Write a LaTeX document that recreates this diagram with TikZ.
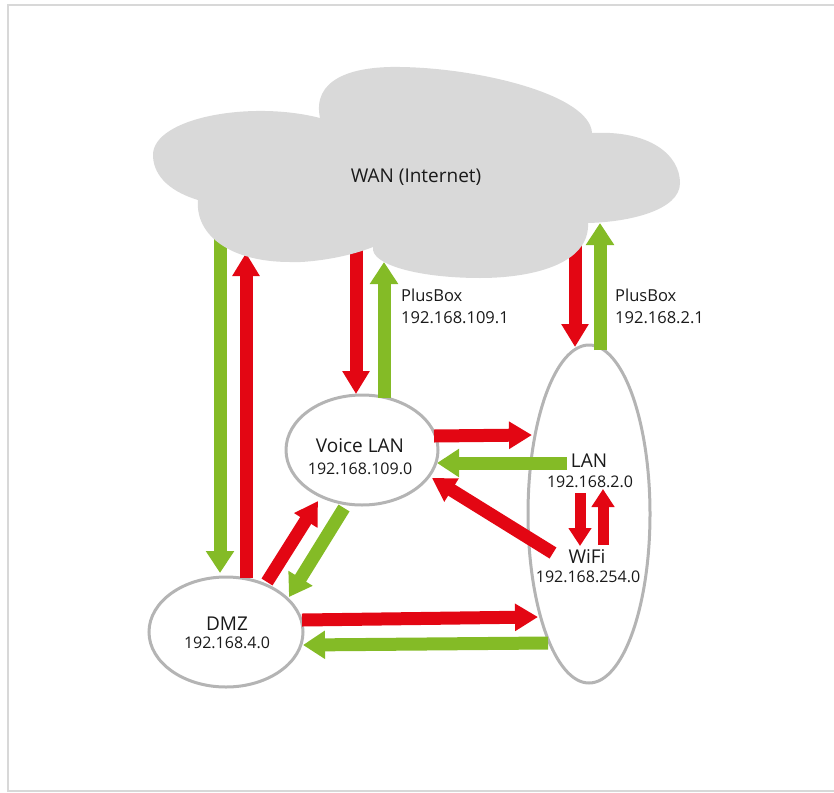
\documentclass[tikz,border=0pt]{standalone}
\usepackage{fontspec}
\setmainfont{Open Sans}
\usetikzlibrary{arrows.meta,shapes.geometric}
\definecolor{vred}{HTML}{E30613}
\definecolor{vgreen}{HTML}{84BB26}
\definecolor{cloudgray}{HTML}{D9D9D9}
\definecolor{ringgray}{HTML}{B4B4B4}
\definecolor{txt}{HTML}{1A1A1A}
\definecolor{framegray}{HTML}{D8D8D8}
\begin{document}
\begin{tikzpicture}[x=1pt,y=-1pt,
  net/.style={ellipse, draw=ringgray, line width=3pt, fill=white, inner sep=0pt},
  bigtxt/.style={inner sep=0pt, text=txt, font=\fontsize{19}{22}\selectfont},
  iptxt/.style={inner sep=0pt, text=txt, font=\fontsize{16}{19}\selectfont},
  plustxt/.style={inner sep=0pt, text=txt, anchor=west, font=\fontsize{16.5}{20}\selectfont},
  redarr/.style={draw=vred, line width=13pt, -{Triangle[width=26pt,length=23pt]}},
  greenarr/.style={draw=vgreen, line width=13pt, -{Triangle[width=27pt,length=22pt]}},
  redsmall/.style={draw=vred, line width=11pt, -{Triangle[width=22pt,length=18pt]}},
]
\useasboundingbox (0,0) rectangle (834,792);
% frame
\draw[framegray, line width=2pt] (840,5) -- (8,5) -- (8,791) -- (840,791);

% network ellipses
\node[net, minimum width=152pt, minimum height=110pt] (voice) at (362,450) {};
\node[net, minimum width=154pt, minimum height=110pt] (dmz) at (226,632) {};
\node[net, minimum width=122pt, minimum height=338pt] (lan) at (589,514) {};

% texts
\node[bigtxt] (voicet) at (360,446) {Voice LAN};
\node[iptxt] (voiceip) at (360,469) {192.168.109.0};
\node[bigtxt] (dmzt) at (227,624) {DMZ};
\node[iptxt] (dmzip) at (227,643) {192.168.4.0};
\node[bigtxt] (lant) at (589,461) {LAN};
\node[iptxt] (lanip) at (590,482) {192.168.2.0};
\node[bigtxt] (wifit) at (587,557) {WiFi};
\node[iptxt] (wifiip) at (588,577) {192.168.254.0};
\node[plustxt] (pbA) at (401,295) {PlusBox};
\node[plustxt] (pbAip) at (401,318) {192.168.109.1};
\node[plustxt] (pbB) at (615,295) {PlusBox};
\node[plustxt] (pbBip) at (615,318) {192.168.2.1};

% arrow end points
\coordinate (w1) at (220,230);  \coordinate (d1) at (220,573);
\coordinate (d2) at (246,578);  \coordinate (w2) at (246,253);
\coordinate (w3) at (356,240);  \coordinate (v3) at (356,394);
\coordinate (v4) at (384,398);  \coordinate (w4) at (384,262);
\coordinate (w5) at (575,220);  \coordinate (l5) at (575,347);
\coordinate (l6) at (600,350);  \coordinate (w6) at (600,223);
\coordinate (v7) at (434,436);  \coordinate (l7) at (532,435);
\coordinate (l8) at (567,463);  \coordinate (v8) at (437,463);
\coordinate (f9) at (553,553);  \coordinate (v9) at (432,478);
\coordinate (a10) at (580,493); \coordinate (b10) at (580,546);
\coordinate (a11) at (603,545); \coordinate (b11) at (603,489);
\coordinate (d12) at (267,582); \coordinate (v12) at (318,501);
\coordinate (v13) at (344,508); \coordinate (d13) at (289,597);
\coordinate (d14) at (302,620); \coordinate (l14) at (538,617);
\coordinate (l15) at (548,643); \coordinate (d15) at (303,645);

\draw[greenarr] (w1) -- (d1);
\draw[redarr] (d2) -- (w2);
\draw[redarr] (w3) -- (v3);
\draw[greenarr] (v4) -- (w4);
\draw[redarr] (w5) -- (l5);
\draw[greenarr] (l6) -- (w6);
\draw[redarr] (v7) -- (l7);
\draw[greenarr] (l8) -- (v8);
\draw[redarr] (f9) -- (v9);
\draw[redsmall] (a10) -- (b10);
\draw[redsmall] (a11) -- (b11);
\draw[redarr] (d12) -- (v12);
\draw[greenarr] (v13) -- (d13);
\draw[redarr] (d14) -- (l14);
\draw[greenarr] (l15) -- (d15);

% cloud
\fill[cloudgray] (153,155)
  .. controls (153,118) and (250,100) .. (320,118)
  .. controls (312,80) and (350,66) .. (400,67)
  .. controls (480,68) and (590,95) .. (592,133)
  .. controls (650,130) and (680,155) .. (680,183)
  .. controls (680,210) and (630,222) .. (588,223)
  .. controls (590,265) and (530,278) .. (480,278)
  .. controls (420,278) and (370,265) .. (373,247)
  .. controls (340,260) and (300,263) .. (290,262)
  .. controls (230,262) and (195,235) .. (198,200)
  .. controls (165,190) and (153,172) .. (153,155) -- cycle;
\node[bigtxt] (wan) at (416,177) {WAN (Internet)};
\end{tikzpicture}
\end{document}
